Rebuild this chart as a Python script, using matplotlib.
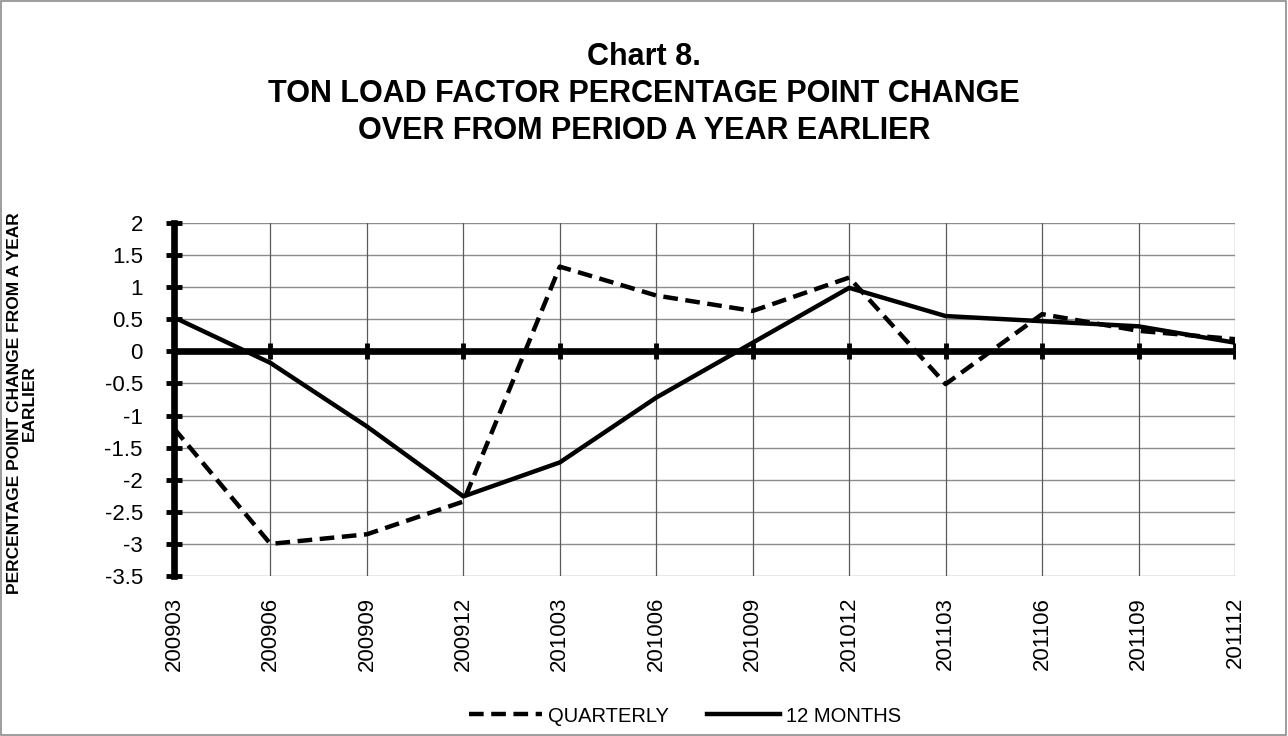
import matplotlib
matplotlib.use("Agg")
import matplotlib.pyplot as plt
import numpy as np
from matplotlib.patches import Rectangle

plt.rcParams['font.family'] = ['Liberation Sans', 'DejaVu Sans']

# data
periods = ['200903', '200906', '200909', '200912', '201003', '201006',
           '201009', '201012', '201103', '201106', '201109', '201112']
quarterly = [-1.2, -3.0, -2.85, -2.34, 1.32, 0.87, 0.63, 1.15, -0.51, 0.58, 0.32, 0.19]
twelve_months = [0.53, -0.18, -1.17, -2.26, -1.73, -0.72, 0.135, 0.99, 0.55, 0.47, 0.39, 0.135]
yticks = np.arange(-3.5, 2.01, 0.5)
title_lines = ['Chart 8.', 'TON LOAD FACTOR PERCENTAGE POINT CHANGE',
               'OVER FROM PERIOD A YEAR EARLIER']

W, H = 1288, 736
fig = plt.figure(figsize=(W/100, H/100), dpi=100)
ax = fig.add_axes([174/W, 1 - 576/H, (1235-174)/W, (576-223)/H])

x = np.arange(len(periods))

# grid
for yv in yticks:
    ax.axhline(yv, color='#8c8c8c', lw=1, zorder=1)
for xv in x:
    ax.axvline(xv, color='#5a5a5a', lw=0.9, zorder=1)

# zero axis with category ticks
ax.axhline(0, color='black', lw=4.8, zorder=3)
ax.plot(x, np.zeros(len(x)), linestyle='none', marker='|', ms=12, mew=3.5,
        color='black', zorder=3)

ax.plot(x, quarterly, color='black', lw=3.2, linestyle=(0, (3.3, 1.7)),
        label='QUARTERLY', zorder=4)
ax.plot(x, twelve_months, color='black', lw=3.2, label='12 MONTHS', zorder=4)

ax.set_xlim(0, len(periods) - 1)
ax.set_ylim(-3.5, 2)
ax.set_yticks(yticks)
ax.set_yticklabels(['%g' % v for v in yticks], fontsize=16)
ax.set_xticks(x)
ax.set_xticklabels(periods, rotation=90, fontsize=16)

for s in ['top', 'right', 'bottom']:
    ax.spines[s].set_visible(False)
ax.spines['left'].set_linewidth(4.8)
ax.spines['left'].set_zorder(5)
ax.tick_params(axis='y', direction='inout', length=11, width=3.5, pad=17)
ax.tick_params(axis='x', length=0, pad=15)

ax.set_ylabel('PERCENTAGE POINT CHANGE FROM A YEAR\nEARLIER',
              fontsize=12.5, fontweight='bold', linespacing=1.05)
ax.yaxis.set_label_coords(-0.129, 0.49)

for i, line in enumerate(title_lines):
    fig.text(0.5, 1 - (65 + 37*i)/H, line, ha='center', va='baseline',
             fontsize=22, fontweight='bold')

fig.legend(loc='center', bbox_to_anchor=(685/W, 1 - 716/H), ncol=2,
           frameon=False, fontsize=14.5, handlelength=3.6, handletextpad=0.3,
           columnspacing=1.9)

fig.patches.append(Rectangle((0.0005, 0.0007), 0.998, 0.998, transform=fig.transFigure,
                             fill=False, edgecolor='#8c8c8c', lw=1.2))

fig.savefig('out.png', dpi=100)
